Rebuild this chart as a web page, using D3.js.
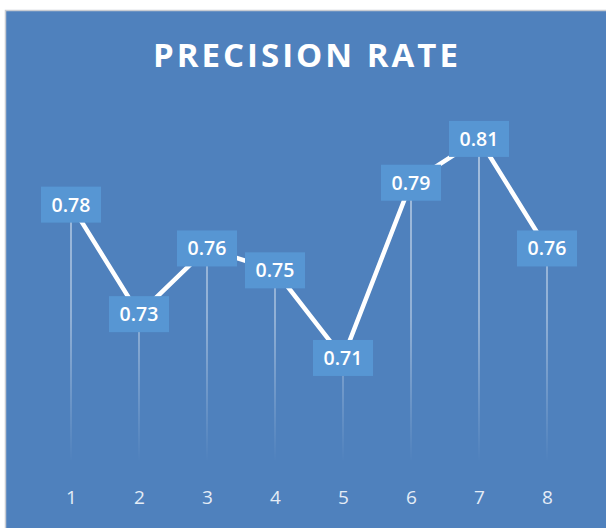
<!DOCTYPE html>
<html>
<head>
<meta charset="utf-8">
<script src="https://cdn.jsdelivr.net/npm/d3@7"></script>
<style>
  html, body { margin: 0; padding: 0; background: #ffffff; }
  svg { display: block; }
</style>
</head>
<body>
<svg id="chart" width="606" height="528"></svg>
<script>
const categories = ["1", "2", "3", "4", "5", "6", "7", "8"];
const values = [0.78, 0.73, 0.76, 0.75, 0.71, 0.79, 0.81, 0.76];
const labels = ["0.78", "0.73", "0.76", "0.75", "0.71", "0.79", "0.81", "0.76"];
const title = "PRECISION RATE";

const svg = d3.select("#chart");
const W = 606, H = 528;

// background panel
svg.append("rect").attr("x", 5.5).attr("y", 10.5).attr("width", W).attr("height", H)
  .attr("fill", "#4F81BD").attr("stroke", "#c8ccd2").attr("stroke-width", 1.5);

const defs = svg.append("defs");
const grad = defs.append("linearGradient").attr("id", "dropGrad")
  .attr("gradientUnits", "userSpaceOnUse").attr("x1", 0).attr("x2", 0)
  .attr("y1", 140).attr("y2", 462);
grad.append("stop").attr("offset", "0%").attr("stop-color", "#ffffff").attr("stop-opacity", 0.65);
grad.append("stop").attr("offset", "55%").attr("stop-color", "#ffffff").attr("stop-opacity", 0.5);
grad.append("stop").attr("offset", "100%").attr("stop-color", "#ffffff").attr("stop-opacity", 0);

const x = d3.scalePoint().domain(categories).range([71, 547]);
const y = d3.scaleLinear().domain([0.66, 0.82]).range([467.5, 117]);

// title
svg.append("text").attr("x", 307).attr("y", 67)
  .attr("text-anchor", "middle")
  .attr("font-family", "'Open Sans', sans-serif").attr("font-weight", 700)
  .attr("font-size", 33).attr("letter-spacing", 3)
  .attr("fill", "#ffffff").text(title);

const data = categories.map((c, i) => ({ c, v: values[i], l: labels[i] }));

// drop lines
svg.append("g").selectAll("line").data(data).join("line")
  .attr("x1", d => x(d.c)).attr("x2", d => x(d.c))
  .attr("y1", d => y(d.v)).attr("y2", 462)
  .attr("stroke", "url(#dropGrad)").attr("stroke-width", 1.5);

// line
svg.append("path").datum(data)
  .attr("fill", "none").attr("stroke", "#ffffff").attr("stroke-width", 4.5)
  .attr("stroke-linejoin", "round")
  .attr("d", d3.line().x(d => x(d.c)).y(d => y(d.v)));

// labels
const lg = svg.append("g").selectAll("g").data(data).join("g")
  .attr("transform", d => `translate(${x(d.c)},${y(d.v)})`);
lg.append("rect").attr("x", -30).attr("y", -18).attr("width", 60).attr("height", 36)
  .attr("fill", "#5796D3");
lg.append("text").attr("text-anchor", "middle").attr("dy", "0.36em")
  .attr("font-family", "'Open Sans', sans-serif").attr("font-weight", 600)
  .attr("font-size", 19.5).attr("fill", "#ffffff").text(d => d.l);

// x axis
const xAxis = d3.axisBottom(x).tickSize(0).tickPadding(0);
const ax = svg.append("g").attr("transform", "translate(0,490)").call(xAxis);
ax.select(".domain").remove();
ax.selectAll("text").attr("font-family", "'Open Sans', sans-serif")
  .attr("font-size", 19).attr("fill", "#e4ecf6");
</script>
</body>
</html>
